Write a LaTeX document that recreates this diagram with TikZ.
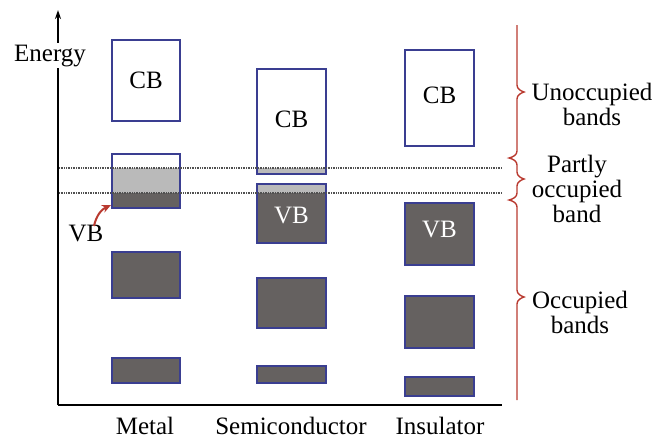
\documentclass[tikz,border=0pt]{standalone}
\usepackage{fontspec}
\setmainfont{Liberation Serif}
\usetikzlibrary{arrows.meta}
\definecolor{bandblue}{RGB}{58,62,145}
\definecolor{darkband}{RGB}{101,97,96}
\definecolor{lightband}{RGB}{186,186,186}
\definecolor{bracered}{RGB}{185,58,48}
\definecolor{dotgray}{RGB}{80,80,80}
\begin{document}
\begin{tikzpicture}[x=1pt,y=-1pt,
  every node/.style={font=\fontsize{25}{25}\selectfont, inner sep=0pt},
  bandline/.style={draw=bandblue, line width=1.3pt},
  fullband/.style={fill=darkband},
  partband/.style={fill=lightband},
  level/.style={draw=dotgray, line width=1.1pt, dash pattern=on 1pt off 0.7pt},
  axisline/.style={line width=1.5pt, black},
  lbl/.style={anchor=base, align=center},
  inlbl/.style={anchor=base, text=white}]
\useasboundingbox (0,0) rectangle (670,440);
% axes
\draw[axisline, -{Stealth[length=9pt,width=6pt]}] (58,405) coordinate (orig) -- (58,10) coordinate (ytop);
\draw[axisline] (orig) -- (502,405) coordinate (xend);
\node[fill=white, inner sep=2pt, lbl] (energy) at (50,61) {Energy};
% Metal
\draw[bandline] (112,40) rectangle (180,121);
\fill[partband] (112,168) rectangle (180,193);
\fill[fullband] (112,193) rectangle (180,208);
\draw[bandline] (112,154) rectangle (180,208);
\draw[bandline, fullband] (112,252) rectangle (180,298);
\draw[bandline, fullband] (112,358) rectangle (180,383);
\coordinate (mvb) at (111,205);
% Semiconductor
\fill[partband] (257,168) rectangle (326,174);
\draw[bandline] (257,69) rectangle (326,174);
\fill[partband] (257,184) rectangle (326,193);
\fill[fullband] (257,193) rectangle (326,243);
\draw[bandline] (257,184) rectangle (326,243);
\draw[bandline, fullband] (257,278) rectangle (326,328);
\draw[bandline, fullband] (257,366) rectangle (326,383);
% Insulator
\draw[bandline] (405,50) rectangle (474,146);
\draw[bandline, fullband] (405,203) rectangle (474,265);
\draw[bandline, fullband] (405,296) rectangle (474,348);
\draw[bandline, fullband] (405,377) rectangle (474,396);
% levels
\draw[level] (59,168) -- (502,168);
\draw[level] (59,193) -- (502,193);
% band labels
\node[lbl] (cbm) at (146,88) {CB};
\node[lbl] (cbs) at (291.5,127) {CB};
\node[lbl] (cbi) at (439.5,103) {CB};
\node[inlbl] (vbs) at (291.5,223) {VB};
\node[inlbl] (vbi) at (439.5,237) {VB};
\node[lbl] (vbm) at (86,241) {VB};
\coordinate (vbstart) at (94,226);
\draw[bracered, line width=2pt, -{Stealth[length=9pt,width=8pt]}] (vbstart) to[out=78,in=205] (mvb);
% column labels
\node[lbl] (metal) at (145,434) {Metal};
\node[lbl] (semi) at (291,434) {Semiconductor};
\node[lbl] (insu) at (440,434) {Insulator};
% braces
\draw[bracered, line width=1.4pt]
  (517,25) -- (517,85) .. controls (517,89) and (521,91) .. (524,92)
  .. controls (521,93) and (517,95) .. (517,99) -- (517,151)
  .. controls (517,155) and (513,157) .. (509,158)
  .. controls (513,159) and (517,161) .. (517,165) -- (517,172)
  .. controls (517,176) and (521,178) .. (524,179)
  .. controls (521,180) and (517,182) .. (517,186) -- (517,193)
  .. controls (517,197) and (513,199) .. (509,200)
  .. controls (513,201) and (517,203) .. (517,207) -- (517,290)
  .. controls (517,294) and (521,296) .. (524,297)
  .. controls (521,298) and (517,300) .. (517,304) -- (517,400);
\node[lbl] (unocc) at (592,125) {Unoccupied\\bands};
\node[lbl] (partly) at (577,222) {Partly\\occupied\\band};
\node[lbl] (occ) at (580,333) {Occupied\\bands};
\end{tikzpicture}
\end{document}
